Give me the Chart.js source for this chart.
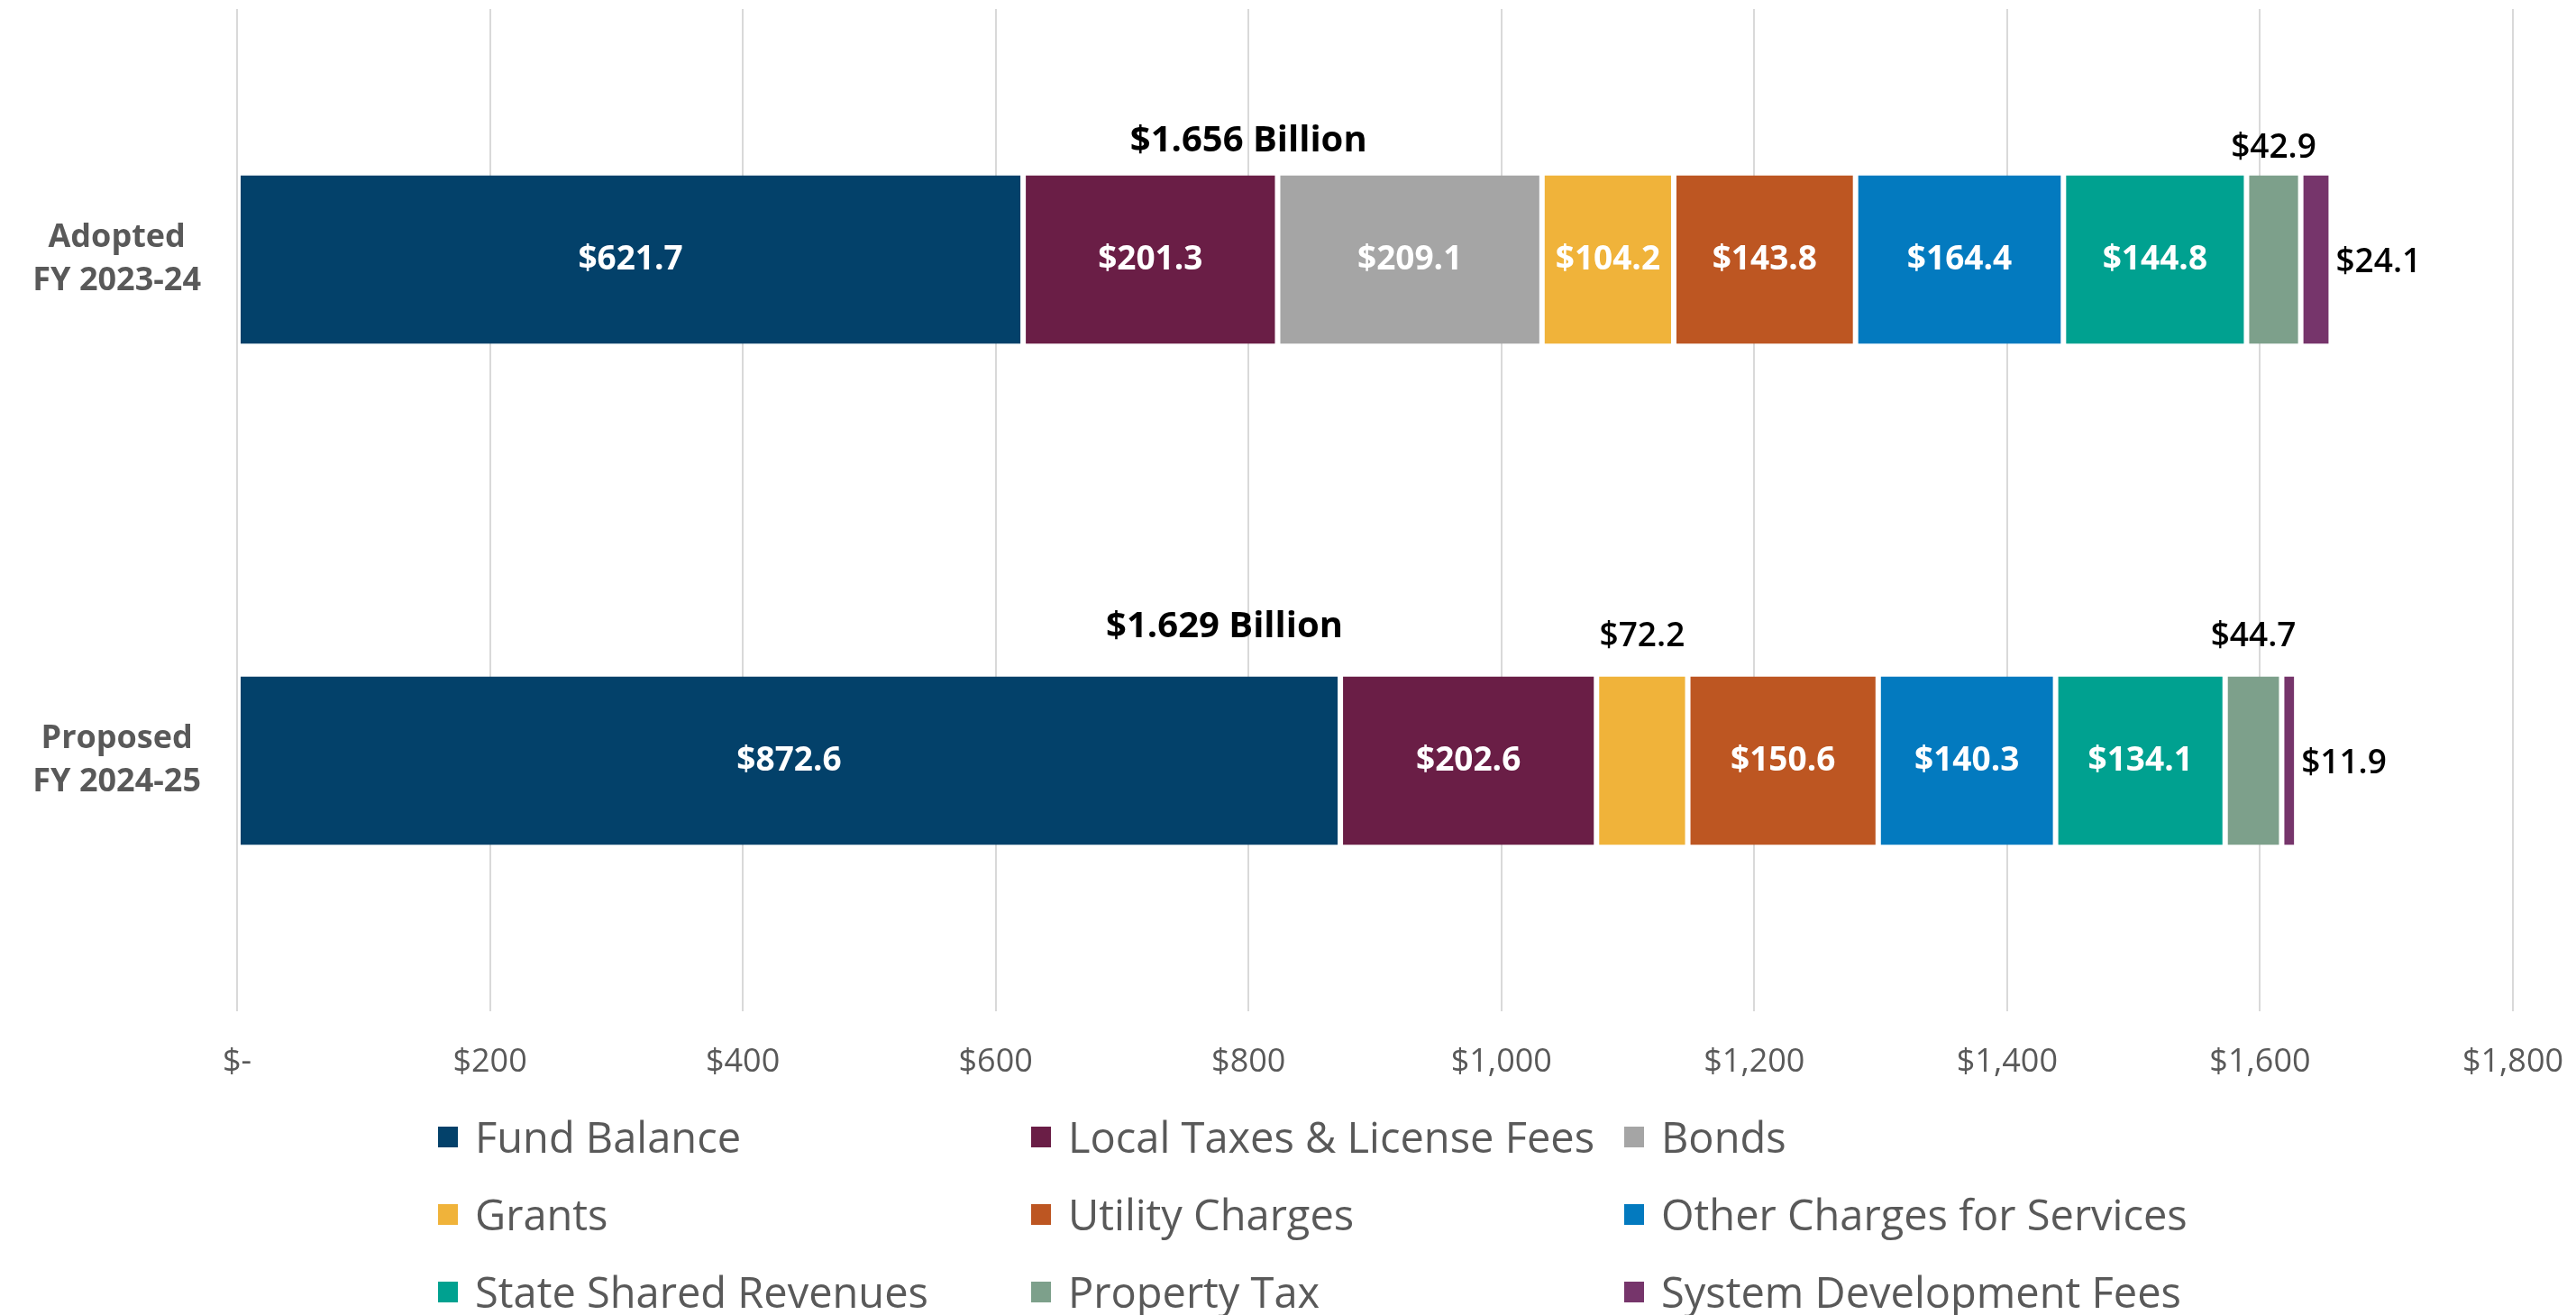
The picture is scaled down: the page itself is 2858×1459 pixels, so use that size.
<!DOCTYPE html>
<html>
<head>
<meta charset="utf-8">
<script src="https://cdn.jsdelivr.net/npm/chart.js@4.4.1/dist/chart.umd.min.js"></script>
<style>
    body { margin: 0; background: #fff; }
    #wrap { position: relative; width: 2858px; height: 1459px; overflow: hidden; }
    #legend {
        position: absolute;
        left: 486px;
        top: 1218px;
        display: grid;
        grid-template-columns: repeat(3, 658px);
        font-family: 'Open Sans', sans-serif;
        font-size: 47px;
        color: #595959;
        line-height: 86px;
    }
    .legend-item { display: flex; align-items: center; white-space: nowrap; }
    .legend-box { width: 22px; height: 23px; margin-right: 19px; flex: none; }
</style>
</head>
<body>
<div id="wrap">
    <canvas id="revenueChart" width="2858" height="1459"></canvas>
    <div id="legend"></div>
</div>
<script>
// Chart data (millions of dollars)
const categories = [['Adopted', 'FY 2023-24'], ['Proposed', 'FY 2024-25']];
const sources = [
    'Fund Balance',
    'Local Taxes & License Fees',
    'Bonds',
    'Grants',
    'Utility Charges',
    'Other Charges for Services',
    'State Shared Revenues',
    'Property Tax',
    'System Development Fees'
];
const fundBalance = [621.7, 872.6];
const localTaxes = [201.3, 202.6];
const bonds = [209.1, 0];
const grants = [104.2, 72.2];
const utilityCharges = [143.8, 150.6];
const otherCharges = [164.4, 140.3];
const stateShared = [144.8, 134.1];
const propertyTax = [42.9, 44.7];
const systemDevFees = [24.1, 11.9];
const xTicks = [0, 200, 400, 600, 800, 1000, 1200, 1400, 1600, 1800];

const colors = ['#03416A', '#6A1E46', '#A5A5A5', '#F0B33A', '#BD5622', '#037ABF', '#00A190', '#7DA08B', '#76356B'];
const seriesValues = [fundBalance, localTaxes, bonds, grants, utilityCharges, otherCharges, stateShared, propertyTax, systemDevFees];

// Totals shown above each bar
const totals = categories.map((c, i) => seriesValues.reduce((sum, s) => sum + s[i], 0));
const totalLabels = totals.map(t => '$' + (t / 1000).toFixed(3) + ' Billion');

const FONT = "'Open Sans', sans-serif";

// Draw value labels and the billion totals
const labelPlugin = {
    id: 'valueLabels',
    afterDatasetsDraw(chart) {
        const ctx = chart.ctx;
        const xScale = chart.scales.x;
        const lastIndex = chart.data.datasets.length - 1;
        const aboveGap = [30, 44];

        ctx.save();
        ctx.textBaseline = 'middle';

        chart.data.datasets.forEach((ds, di) => {
            const meta = chart.getDatasetMeta(di);
            meta.data.forEach((bar, bi) => {
                const v = ds.data[bi];
                if (!v) return;
                const text = '$' + v.toFixed(1);
                const mid = (bar.x + bar.base) / 2;
                if (v >= 80) {
                    ctx.font = 'bold 37px ' + FONT;
                    ctx.fillStyle = '#ffffff';
                    ctx.textAlign = 'center';
                    ctx.fillText(text, mid, bar.y);
                } else if (di === lastIndex) {
                    ctx.font = '600 37px ' + FONT;
                    ctx.fillStyle = '#000000';
                    ctx.textAlign = 'left';
                    ctx.fillText(text, bar.x + 5, bar.y + 3);
                } else {
                    ctx.font = '600 37px ' + FONT;
                    ctx.fillStyle = '#000000';
                    ctx.textAlign = 'center';
                    ctx.fillText(text, mid, bar.y - bar.height / 2 - aboveGap[bi]);
                }
            });
        });

        // Totals
        const totalAt = [800, 781];
        const totalGap = [38, 55];
        const meta0 = chart.getDatasetMeta(0);
        ctx.font = 'bold 40px ' + FONT;
        ctx.fillStyle = '#000000';
        ctx.textAlign = 'center';
        totalLabels.forEach((label, i) => {
            const bar = meta0.data[i];
            ctx.fillText(label, xScale.getPixelForValue(totalAt[i]), bar.y - bar.height / 2 - totalGap[i]);
        });
        ctx.restore();
    }
};

const revenueChart = new Chart(document.getElementById('revenueChart'), {
    type: 'bar',
    data: {
        labels: categories,
        datasets: sources.map((name, i) => ({
            label: name,
            data: seriesValues[i],
            backgroundColor: colors[i],
            borderColor: '#ffffff',
            borderWidth: { left: 3, right: 3, top: 0, bottom: 0 },
            borderSkipped: false,
            barPercentage: 0.336,
            categoryPercentage: 1
        }))
    },
    options: {
        indexAxis: 'y',
        responsive: false,
        animation: false,
        layout: {
            padding: { top: 10, right: 70, bottom: 241, left: 0 }
        },
        plugins: {
            legend: { display: false },
            tooltip: { enabled: false }
        },
        scales: {
            x: {
                stacked: true,
                min: 0,
                max: 1800,
                afterBuildTicks: scale => {
                    scale.ticks = xTicks.map(v => ({ value: v }));
                },
                afterFit: scale => {
                    scale.height = 96;
                    scale.paddingLeft = 0;
                    scale.paddingRight = 0;
                },
                border: { display: false },
                grid: { color: '#D9D9D9', lineWidth: 2, drawTicks: false },
                ticks: {
                    color: '#595959',
                    padding: 35,
                    maxRotation: 0,
                    font: { family: FONT, size: 36 },
                    callback: v => v === 0 ? '$-' : '$' + v.toLocaleString('en-US')
                }
            },
            y: {
                stacked: true,
                afterFit: scale => {
                    scale.width = 263;
                    scale.paddingTop = 0;
                    scale.paddingBottom = 0;
                },
                border: { display: false },
                grid: { display: false, drawTicks: false },
                ticks: {
                    color: '#595959',
                    padding: 40,
                    crossAlign: 'center',
                    font: { family: FONT, size: 36, weight: 'bold', lineHeight: 1.33 }
                }
            }
        }
    },
    plugins: [labelPlugin]
});

// Build the HTML legend in a 3-column grid
const legendEl = document.getElementById('legend');
legendEl.innerHTML = revenueChart.data.datasets.map(ds => `
    <div class="legend-item">
        <span class="legend-box" style="background:${ds.backgroundColor}"></span>
        <span>${ds.label.replace('&', '&amp;')}</span>
    </div>
`).join('');
</script>
</body>
</html>
